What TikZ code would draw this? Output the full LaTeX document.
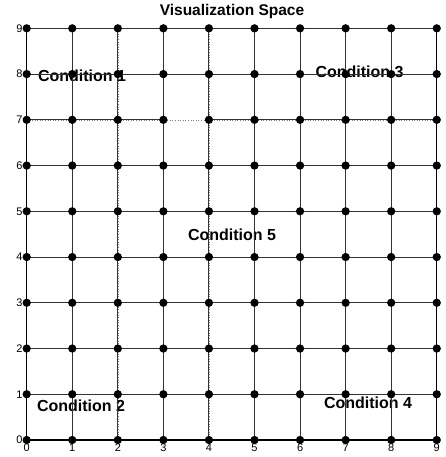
\documentclass[tikz,border=0pt]{standalone}
\usepackage{fontspec}
\setmainfont{Liberation Sans}
\begin{document}
\begin{tikzpicture}[x=1pt,y=1pt,
  dot/.style={circle,fill=black,inner sep=0pt,minimum size=8.3pt},
  link/.style={black!80,line width=0.9pt},
  gridline/.style={gray,dotted,line width=0.6pt},
  axisline/.style={black,line width=1.4pt},
  ticklabel/.style={font=\fontsize{11}{12}\selectfont,inner sep=1pt},
  condlabel/.style={font=\fontsize{16}{18}\selectfont\bfseries,inner sep=0pt},
  titlelabel/.style={font=\fontsize{15.5}{17}\selectfont\bfseries,inner sep=0pt}]
\useasboundingbox (0,0) rectangle (445,457);
\def\xo{26.7}\def\dx{45.56}\def\yo{17}\def\dy{45.74}
% dotted grid
\foreach \i in {0,...,9}{
  \draw[gridline] ({\xo+\i*\dx},{\yo}) -- ({\xo+\i*\dx},{\yo+9*\dy});
  \draw[gridline] ({\xo},{\yo+\i*\dy}) -- ({\xo+9*\dx},{\yo+\i*\dy});
}
% labels
\node[titlelabel] (title) at (232,445) {Visualization Space};
\node[condlabel] (c1) at (82,381) {Condition 1};
\node[condlabel] (c2) at (81,51) {Condition 2};
\node[condlabel] (c3) at (359.5,385) {Condition 3};
\node[condlabel] (c4) at (368,54) {Condition 4};
\node[condlabel] (c5) at (232,222) {Condition 5};
% coordinates of nodes
\foreach \i in {0,...,9}{
  \foreach \j in {0,...,9}{
    \coordinate (p-\i-\j) at ({\xo+\i*\dx},{\yo+\j*\dy});
  }
}
% vertical links
\foreach \i in {0,...,9}{
  \foreach \j [evaluate=\j as \k using int(\j+1)] in {0,...,8}{
    \draw[link] (p-\i-\j) -- (p-\i-\k);
  }
}
% horizontal links (except 3,7 -- 4,7)
\foreach \j in {0,...,9}{
  \foreach \i [evaluate=\i as \k using int(\i+1)] in {0,...,8}{
    \ifnum\j=7 \ifnum\i=3 \else \draw[link] (p-\i-\j) -- (p-\k-\j); \fi
    \else \draw[link] (p-\i-\j) -- (p-\k-\j); \fi
  }
}
% axes
\draw[axisline] (p-0-0) -- (p-9-0);
\draw[axisline] (p-0-0) -- (p-0-9);
\draw[axisline] (p-9-0) -- (p-9-9);
% dots
\foreach \i in {0,...,9}{
  \foreach \j in {0,...,9}{
    \node[dot] (d-\i-\j) at (p-\i-\j) {};
  }
}
% tick labels
\foreach \i in {0,...,9}{
  \node[ticklabel,anchor=east] (yl-\i) at ({\xo-3},{\yo+\i*\dy}) {\i};
  \node[ticklabel,anchor=north] (xl-\i) at ({\xo+\i*\dx},{\yo-3}) {\i};
}
\end{tikzpicture}
\end{document}
